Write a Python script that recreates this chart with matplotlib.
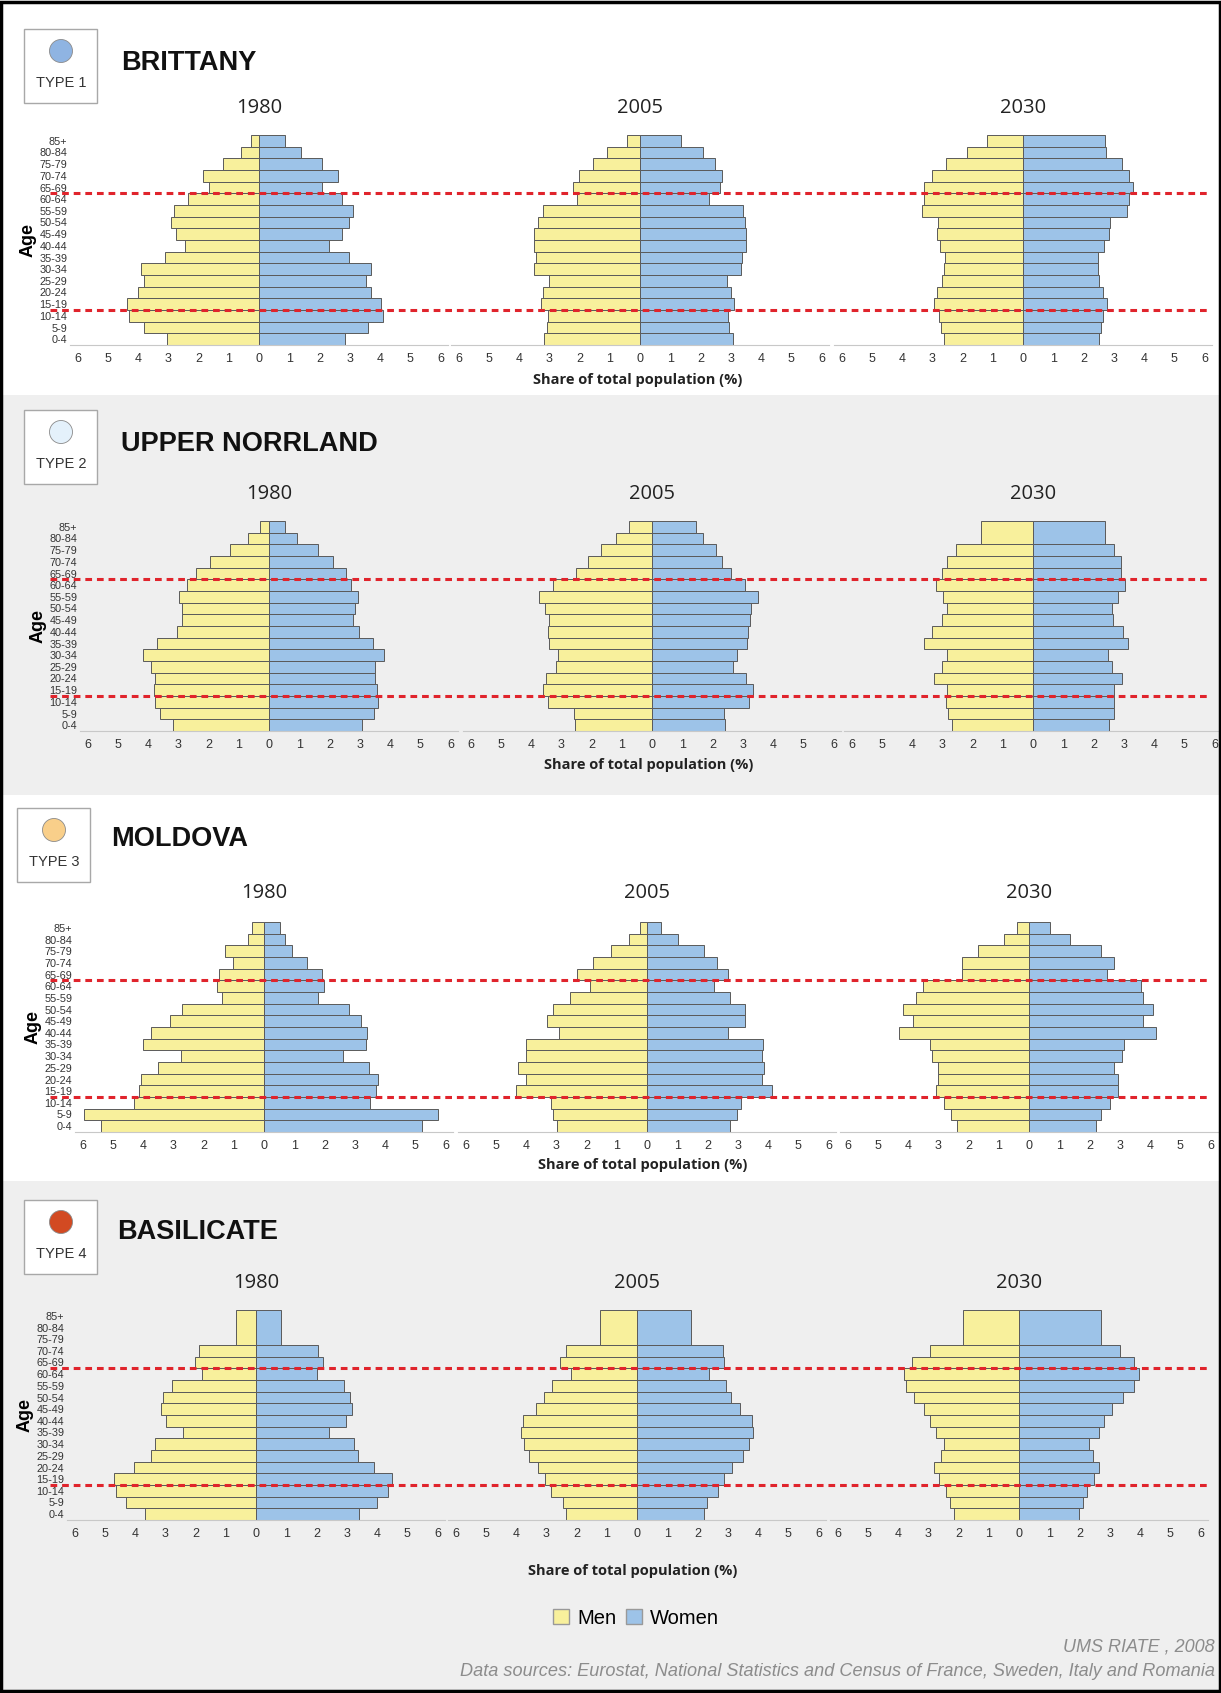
import matplotlib
matplotlib.use("Agg")
import matplotlib.pyplot as plt
import matplotlib.transforms as mtransforms
from matplotlib.patches import Rectangle, Ellipse, Patch
from matplotlib.lines import Line2D

plt.rcParams['font.family'] = ['Liberation Sans', 'DejaVu Sans']

# ---- data (shares in %, listed from 0-4 upwards; last value may be an open top group) ----
age_labels = ['0-4', '5-9', '10-14', '15-19', '20-24', '25-29', '30-34', '35-39', '40-44',
              '45-49', '50-54', '55-59', '60-64', '65-69', '70-74', '75-79', '80-84', '85+']
years = ['1980', '2005', '2030']
regions = ['BRITTANY', 'UPPER NORRLAND', 'MOLDOVA', 'BASILICATE']
region_types = ['TYPE 1', 'TYPE 2', 'TYPE 3', 'TYPE 4']
type_colors = ['#8fb4e2', '#e4f1fb', '#f9cf8a', '#d24a22']

brittany_men_1980 = [3.05, 3.8, 4.3, 4.35, 4.0, 3.8, 3.9, 3.1, 2.45, 2.75, 2.9, 2.8, 2.35, 1.65, 1.85, 1.2, 0.6, 0.28]
brittany_women_1980 = [2.85, 3.59, 4.09, 4.03, 3.7, 3.54, 3.7, 2.96, 2.33, 2.76, 2.98, 3.1, 2.76, 2.08, 2.6, 2.08, 1.38, 0.86]
brittany_men_2005 = [3.17, 3.07, 3.04, 3.26, 3.2, 3.0, 3.5, 3.43, 3.5, 3.5, 3.37, 3.2, 2.07, 2.2, 2.01, 1.57, 1.08, 0.44]
brittany_women_2005 = [3.09, 2.93, 2.9, 3.12, 3.0, 2.87, 3.34, 3.37, 3.5, 3.5, 3.46, 3.39, 2.28, 2.65, 2.71, 2.49, 2.07, 1.36]
brittany_men_2030 = [2.62, 2.71, 2.78, 2.95, 2.86, 2.67, 2.6, 2.58, 2.75, 2.86, 2.82, 3.35, 3.27, 3.27, 3.0, 2.56, 1.85, 1.19]
brittany_women_2030 = [2.5, 2.58, 2.66, 2.77, 2.66, 2.5, 2.47, 2.47, 2.69, 2.84, 2.88, 3.43, 3.52, 3.63, 3.52, 3.26, 2.75, 2.71]

norrland_men_1980 = [3.18, 3.59, 3.78, 3.81, 3.78, 3.89, 4.18, 3.72, 3.03, 2.87, 2.87, 2.98, 2.72, 2.42, 1.96, 1.29, 0.68, 0.31]
norrland_women_1980 = [3.06, 3.47, 3.6, 3.58, 3.49, 3.49, 3.8, 3.43, 2.99, 2.77, 2.86, 2.93, 2.72, 2.56, 2.13, 1.63, 0.93, 0.54]
norrland_men_2005 = [2.55, 2.57, 3.43, 3.59, 3.51, 3.18, 3.12, 3.4, 3.43, 3.4, 3.54, 3.73, 3.26, 2.52, 2.11, 1.7, 1.18, 0.76]
norrland_women_2005 = [2.4, 2.37, 3.2, 3.33, 3.11, 2.69, 2.81, 3.13, 3.16, 3.24, 3.27, 3.49, 3.09, 2.62, 2.32, 2.12, 1.68, 1.44]
# 2030: top group is 80+
norrland_men_2030 = [2.67, 2.82, 2.88, 2.86, 3.26, 3.0, 2.84, 3.59, 3.35, 3.0, 2.84, 2.99, 3.22, 3.0, 2.86, 2.56, 1.73]
norrland_women_2030 = [2.51, 2.67, 2.67, 2.67, 2.93, 2.62, 2.47, 3.15, 2.97, 2.66, 2.6, 2.82, 3.05, 2.91, 2.91, 2.69, 2.38]

moldova_men_1980 = [5.4, 5.95, 4.31, 4.14, 4.07, 3.5, 2.73, 4.01, 3.73, 3.11, 2.7, 1.4, 1.56, 1.5, 1.01, 1.29, 0.53, 0.39]
moldova_women_1980 = [5.21, 5.74, 3.5, 3.72, 3.77, 3.47, 2.61, 3.36, 3.41, 3.21, 2.82, 1.8, 2.0, 1.93, 1.41, 0.94, 0.69, 0.52]
moldova_men_2005 = [2.96, 3.1, 3.19, 4.33, 4.0, 4.25, 4.01, 4.01, 2.9, 3.32, 3.1, 2.53, 1.89, 2.33, 1.78, 1.18, 0.6, 0.22]
moldova_women_2005 = [2.73, 2.97, 3.11, 4.13, 3.79, 3.88, 3.8, 3.82, 2.69, 3.25, 3.25, 2.73, 2.2, 2.67, 2.31, 1.88, 1.02, 0.45]
moldova_men_2030 = [2.37, 2.59, 2.81, 3.06, 3.0, 3.0, 3.2, 3.28, 4.29, 3.84, 4.17, 3.73, 3.51, 2.2, 2.23, 1.68, 0.83, 0.4]
moldova_women_2030 = [2.21, 2.39, 2.67, 2.93, 2.93, 2.82, 3.06, 3.13, 4.19, 3.78, 4.11, 3.78, 3.71, 2.58, 2.82, 2.38, 1.36, 0.69]

# Basilicate: top group is 75+
basilicate_men_1980 = [3.68, 4.31, 4.62, 4.69, 4.03, 3.46, 3.34, 2.42, 2.96, 3.13, 3.07, 2.77, 1.78, 2.03, 1.87, 0.65]
basilicate_women_1980 = [3.42, 4.01, 4.37, 4.51, 3.91, 3.38, 3.24, 2.43, 2.98, 3.16, 3.11, 2.92, 2.01, 2.21, 2.04, 0.84]
basilicate_men_2005 = [2.34, 2.45, 2.84, 3.05, 3.27, 3.58, 3.73, 3.82, 3.76, 3.35, 3.07, 2.81, 2.18, 2.54, 2.34, 1.22]
basilicate_women_2005 = [2.2, 2.32, 2.67, 2.89, 3.14, 3.49, 3.71, 3.84, 3.8, 3.4, 3.11, 2.94, 2.38, 2.89, 2.84, 1.77]
basilicate_men_2030 = [2.14, 2.29, 2.43, 2.64, 2.8, 2.59, 2.47, 2.75, 2.95, 3.13, 3.47, 3.75, 3.79, 3.53, 2.95, 1.85]
basilicate_women_2030 = [2.0, 2.11, 2.25, 2.49, 2.66, 2.46, 2.31, 2.66, 2.82, 3.07, 3.43, 3.81, 3.98, 3.81, 3.34, 2.71]

pyramids = [
    [(brittany_men_1980, brittany_women_1980), (brittany_men_2005, brittany_women_2005),
     (brittany_men_2030, brittany_women_2030)],
    [(norrland_men_1980, norrland_women_1980), (norrland_men_2005, norrland_women_2005),
     (norrland_men_2030, norrland_women_2030)],
    [(moldova_men_1980, moldova_women_1980), (moldova_men_2005, moldova_women_2005),
     (moldova_men_2030, moldova_women_2030)],
    [(basilicate_men_1980, basilicate_women_1980), (basilicate_men_2005, basilicate_women_2005),
     (basilicate_men_2030, basilicate_women_2030)],
]

MEN_COLOR = '#f8f09c'
WOMEN_COLOR = '#9dc3e8'
EDGE = '#5a5a5a'
GRAY_BG = '#efefef'
RED = '#e0242c'

W, H = 1221, 1693
fig = plt.figure(figsize=(W / 100, H / 100), dpi=100)


def fx(x):
    return x / W


def fy(y):
    return 1 - y / H


# background bands
bands = [(0, 395, 'white'), (395, 795, GRAY_BG), (795, 1181, 'white'), (1181, H, GRAY_BG)]
for y0, y1, c in bands:
    fig.add_artist(Rectangle((0, fy(y1)), 1, (y1 - y0) / H, transform=fig.transFigure,
                             facecolor=c, edgecolor='none', zorder=-10))

# layout of each row (pixel positions)
layout = [
    dict(top=135, centers=(259, 640, 1023), box=(24, 29), title=(121, 63), year_y=108, share=(638, 380)),
    dict(top=521, centers=(269, 652, 1033), box=(24, 410), title=(121, 444), year_y=494, share=(649, 765)),
    dict(top=922, centers=(264, 647, 1029), box=(17, 808), title=(111, 839), year_y=893, share=(643, 1165)),
    dict(top=1310, centers=(256, 637, 1019), box=(24, 1200), title=(117, 1232), year_y=1283, share=(633, 1571)),
]

AX_W = 378
AX_H = 210
XLIM = 6.25

for r, lay in enumerate(layout):
    axes = []
    for c, cx in enumerate(lay['centers']):
        ax = fig.add_axes([fx(cx - AX_W / 2), fy(lay['top'] + AX_H), AX_W / W, AX_H / H])
        ax.patch.set_alpha(0)
        men, women = pyramids[r][c]
        n = len(men)
        bottoms = list(range(n))
        heights = [1] * (n - 1) + [len(age_labels) - (n - 1)]
        ax.barh(bottoms, [-v for v in men], height=heights, align='edge',
                color=MEN_COLOR, edgecolor=EDGE, linewidth=0.7)
        ax.barh(bottoms, women, height=heights, align='edge',
                color=WOMEN_COLOR, edgecolor=EDGE, linewidth=0.7)
        ax.set_xlim(-XLIM, XLIM)
        ax.set_ylim(0, len(age_labels))
        ax.set_xticks(range(-6, 7))
        ax.set_xticklabels([str(abs(t)) for t in range(-6, 7)], fontsize=9, color='#333333')
        ax.tick_params(axis='x', length=0, pad=6)
        for s in ['top', 'right', 'left']:
            ax.spines[s].set_visible(False)
        ax.spines['bottom'].set_color('#c8c8c8')
        if c == 0:
            ax.set_yticks([i + 0.5 for i in range(len(age_labels))])
            ax.set_yticklabels(age_labels, fontsize=7.8, color='#333333')
            ax.tick_params(axis='y', length=0, pad=2)
            ax.set_ylabel('Age', fontsize=13, fontweight='bold', labelpad=2)
        else:
            ax.set_yticks([])
        fig.text(fx(cx), fy(lay['year_y']), years[c], ha='center', va='center',
                 fontsize=14.5, color='#222222', family=['Open Sans', 'DejaVu Sans'])
        axes.append(ax)

    # red dashed reference lines across the row (age 15 and age 65)
    trans = mtransforms.blended_transform_factory(fig.transFigure, axes[0].transData)
    for yv in (3, 13):
        fig.add_artist(Line2D([fx(50), fx(1210)], [yv, yv], transform=trans, color=RED,
                              lw=2.2, linestyle=(0, (2.2, 1.6)), zorder=5))

    # header: type box, circle and region name
    bx, by = lay['box']
    fig.add_artist(Rectangle((fx(bx), fy(by + 74)), 73 / W, 74 / H, transform=fig.transFigure,
                             facecolor='white', edgecolor='#a8a8a8', lw=1.0))
    fig.add_artist(Ellipse((fx(bx + 37), fy(by + 22)), 23 / W, 23 / H, transform=fig.transFigure,
                           facecolor=type_colors[r], edgecolor='#8a8a8a', lw=0.6))
    fig.text(fx(bx + 37), fy(by + 54), region_types[r], ha='center', va='center',
             fontsize=10.5, color='#333333')
    tx, ty = lay['title']
    fig.text(fx(tx), fy(ty), regions[r], ha='left', va='center', fontsize=19.5,
             fontweight='bold', color='#111111')
    sx, sy = lay['share']
    fig.text(fx(sx), fy(sy), 'Share of total population (%)', ha='center', va='center',
             fontsize=10.5, fontweight='bold', color='#222222', family=['Open Sans', 'DejaVu Sans'])

# legend
handles = [Patch(facecolor=MEN_COLOR, edgecolor='#999999', label='Men'),
           Patch(facecolor=WOMEN_COLOR, edgecolor='#999999', label='Women')]
fig.legend(handles=handles, loc='center', bbox_to_anchor=(fx(636), fy(1618)), ncol=2,
           frameon=False, fontsize=14.5, handlelength=0.8, handleheight=0.8,
           handletextpad=0.4, columnspacing=0.5)

fig.text(fx(1215), fy(1647), 'UMS RIATE , 2008', ha='right', va='center',
         fontsize=13, style='italic', color='#8c8c8c')
fig.text(fx(1215), fy(1672),
         'Data sources: Eurostat, National Statistics and Census of France, Sweden, Italy and Romania',
         ha='right', va='center', fontsize=13.1, style='italic', color='#8c8c8c')

# outer frame
fig.add_artist(Rectangle((0.001, 0.001), 0.998, 0.998, transform=fig.transFigure,
                         facecolor='none', edgecolor='black', lw=2.5, zorder=20))

fig.savefig('out.png', dpi=100)
